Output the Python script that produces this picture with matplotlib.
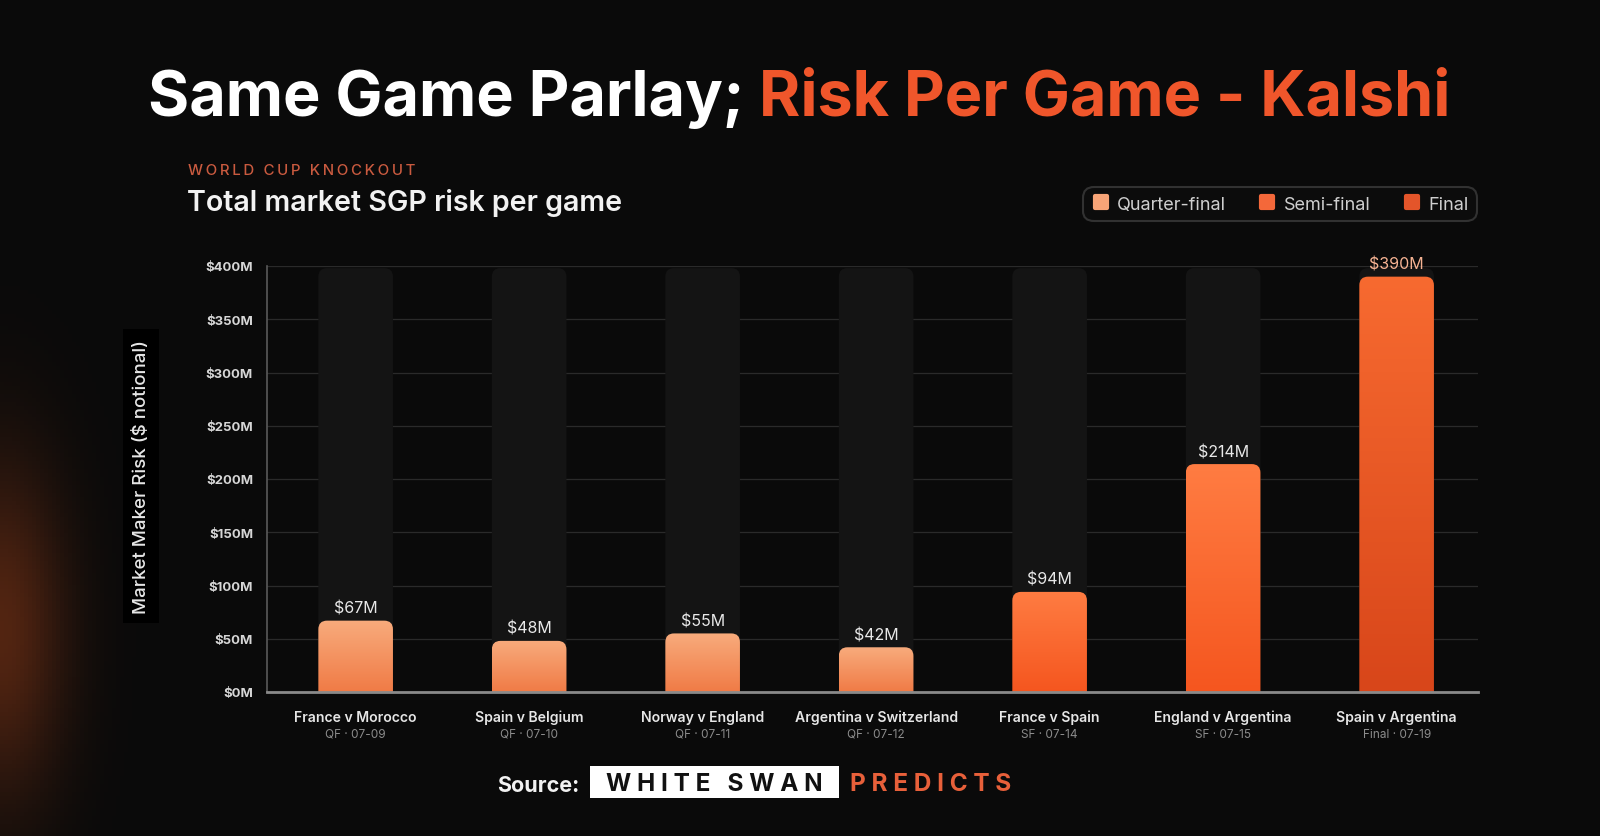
import numpy as np
import matplotlib
matplotlib.use("Agg")
import matplotlib.pyplot as plt
from matplotlib.patches import FancyBboxPatch, Rectangle
from matplotlib.lines import Line2D
from matplotlib.markers import MarkerStyle
import matplotlib.transforms as mtransforms

# data
games = ["France v Morocco", "Spain v Belgium", "Norway v England", "Argentina v Switzerland",
         "France v Spain", "England v Argentina", "Spain v Argentina"]
subs = ["QF · 07-09", "QF · 07-10", "QF · 07-11", "QF · 07-12",
        "SF · 07-14", "SF · 07-15", "Final · 07-19"]
stages = ["QF", "QF", "QF", "QF", "SF", "SF", "Final"]
risk = [67, 48, 55, 42, 94, 214, 390]  # $M
yticks = [0, 50, 100, 150, 200, 250, 300, 350, 400]

# stage -> (top colour, bottom colour)
grad = {"QF": ("#f8ab7c", "#f07b46"),
        "SF": ("#ff7c42", "#f5561f"),
        "Final": ("#f76a30", "#d8461a")}
legend_col = {"QF": "#f7a477", "SF": "#f4683a", "Final": "#e4552a"}

plt.rcParams['font.family'] = ['Inter', 'DejaVu Sans']
BG = "#0a0a0a"

fig = plt.figure(figsize=(16, 8.37), dpi=100, facecolor=BG)

# background glow (lower left)
bg = fig.add_axes([0, 0, 1, 1], zorder=-10)
bg.axis("off")
h, w = 210, 400
yy, xx = np.mgrid[0:h, 0:w]
glow = np.exp(-(xx / 16.0) ** 2 - ((yy - 158) / 42.0) ** 2) * 0.38
base = np.array([10, 10, 10]) / 255.0
orange = np.array([200, 80, 30]) / 255.0
img = base[None, None, :] * (1 - glow[..., None]) + orange[None, None, :] * glow[..., None]
bg.imshow(img, aspect="auto", extent=[0, 1, 0, 1], origin="upper")
bg.set_xlim(0, 1)
bg.set_ylim(0, 1)

ax = fig.add_axes([267 / 1600, 144 / 837, 1211 / 1600, 426 / 837])
ax.set_facecolor("none")
x = np.arange(len(games))
bw = 0.43
xlo, xhi = -0.511, 6.469

# px per unit -> aspect for rounded corners
aspect = (1211 / (xhi - xlo)) / (426 / 400)
r = 0.05

for i, (v, st) in enumerate(zip(risk, stages)):
    # track column
    track = FancyBboxPatch((i - bw / 2, -20), bw, 418, boxstyle=f"round,pad=0,rounding_size={r}",
                           mutation_aspect=aspect, facecolor="#141414", edgecolor="none", zorder=1)
    ax.add_patch(track)
    # bar with gradient
    patch = FancyBboxPatch((i - bw / 2, -20), bw, v + 20, boxstyle=f"round,pad=0,rounding_size={r}",
                           mutation_aspect=aspect, facecolor="none", edgecolor="none", zorder=3)
    ax.add_patch(patch)
    top = np.array(matplotlib.colors.to_rgb(grad[st][0]))
    bot = np.array(matplotlib.colors.to_rgb(grad[st][1]))
    t = np.linspace(0, 1, 100)[:, None]
    g = top[None, :] * (1 - t) + bot[None, :] * t
    im = ax.imshow(g[:, None, :], extent=[i - bw / 2, i + bw / 2, 0, v], aspect="auto",
                   origin="upper", zorder=3)
    im.set_clip_path(patch)
    lab_col = "#f6b393" if st == "Final" else "#e8e8e8"
    ax.annotate(f"${v}M", (i, v), xytext=(0, 5), textcoords="offset pixels", ha="center",
                va="bottom", fontsize=11.5, color=lab_col, zorder=5)

ax.set_aspect("auto")
ax.set_xlim(xlo, xhi)
ax.set_ylim(0, 400)

ax.set_yticks(yticks)
ax.set_yticklabels([f"${v}M" for v in yticks], fontsize=9.5, fontweight="bold", color="#d6d6d6")
ax.tick_params(axis="y", length=0, pad=10)
ax.set_xticks(x)
ax.set_xticklabels([""] * len(x))
ax.tick_params(axis="x", length=0)
ax.grid(axis="y", color="#2a2a2a", lw=0.9, zorder=0)
ax.set_axisbelow(True)
for s in ["top", "right"]:
    ax.spines[s].set_visible(False)
ax.spines["left"].set_color("#5a5a5a")
ax.spines["left"].set_linewidth(1.2)
ax.spines["bottom"].set_color("#8a8a8a")
ax.spines["bottom"].set_linewidth(2)
ax.spines["bottom"].set_zorder(6)

trans = mtransforms.blended_transform_factory(ax.transData, fig.transFigure)
for i, (gname, sub) in enumerate(zip(games, subs)):
    fig.text(i, 1 - 718 / 837, gname, transform=trans, ha="center", va="center",
             fontsize=10.1, fontweight="semibold", color="#e6e6e6")
    fig.text(i, 1 - 735 / 837, sub, transform=trans, ha="center", va="center",
             fontsize=8.5, color="#8c8c8c")

fig.text(141 / 1600, 1 - 477 / 837, "Market Maker Risk ($ notional)", rotation=90,
         ha="center", va="center", fontsize=13.5, fontweight="medium", color="#e6e6e6",
         bbox=dict(facecolor="#000000", edgecolor="none", pad=7))

# title, two colours
fig.canvas.draw()
rend = fig.canvas.get_renderer()
t1 = fig.text(0, 1 - 99 / 837, "Same Game Parlay; ", fontsize=45.3, fontweight="bold",
              color="#ffffff", va="center", ha="left")
t2 = fig.text(0, 1 - 99 / 837, "Risk Per Game - Kalshi", fontsize=45.3, fontweight="bold",
              color="#f0562b", va="center", ha="left")
w1 = t1.get_window_extent(rend).width
w2 = t2.get_window_extent(rend).width
x0 = 148 + (1303 - (w1 + w2)) / 2
t1.set_x(x0 / 1600)
t2.set_x((x0 + w1) / 1600)

fig.text(188 / 1600, 1 - 171 / 837, "\u2009".join("WORLD CUP KNOCKOUT"), fontsize=10.8,
         fontweight="medium", color="#c95a3f", va="center", ha="left")
fig.text(187 / 1600, 1 - 203 / 837, "Total market SGP risk per game", fontsize=20.6,
         fontweight="semibold", color="#f2f2f2", va="center", ha="left")

# legend
handles = [Line2D([], [], ls="none", marker=MarkerStyle("s", joinstyle="round"), markersize=8,
                  markerfacecolor=legend_col[k], markeredgecolor=legend_col[k], markeredgewidth=3)
           for k in ["QF", "SF", "Final"]]
leg = fig.legend(handles, ["Quarter-final", "Semi-final", "Final"], ncol=3, loc="upper right",
                 bbox_to_anchor=(1477 / 1600, 1 - 188 / 837), borderaxespad=0, frameon=True,
                 fancybox=True, facecolor="#0d0d0d", edgecolor="#3c3c3c", fontsize=13,
                 labelcolor="#cfcfcf", handletextpad=0.4, columnspacing=1.8, borderpad=0.48,
                 handlelength=1.0)
leg.get_frame().set_linewidth(1.5)
leg.get_frame().set_boxstyle("round", pad=0, rounding_size=0.6)

# source line
fig.text(579 / 1600, 1 - 786 / 837, "Source:", fontsize=15.5, fontweight="bold",
         color="#f2f2f2", va="center", ha="right")
fig.patches.append(Rectangle((590 / 1600, 1 - 799 / 837), 249 / 1600, 32 / 837,
                             transform=fig.transFigure, facecolor="#ffffff", edgecolor="none"))
fig.text(714 / 1600, 1 - 785 / 837, "W H I T E   S W A N", fontsize=17.5, fontweight="bold",
         color="#111111", va="center", ha="center")
fig.text(850 / 1600, 1 - 785 / 837, "\u2009\u200a".join("PREDICTS"), fontsize=17.5,
         fontweight="bold", color="#e8603a", va="center", ha="left")

fig.savefig("out.png", dpi=100, facecolor=BG)
